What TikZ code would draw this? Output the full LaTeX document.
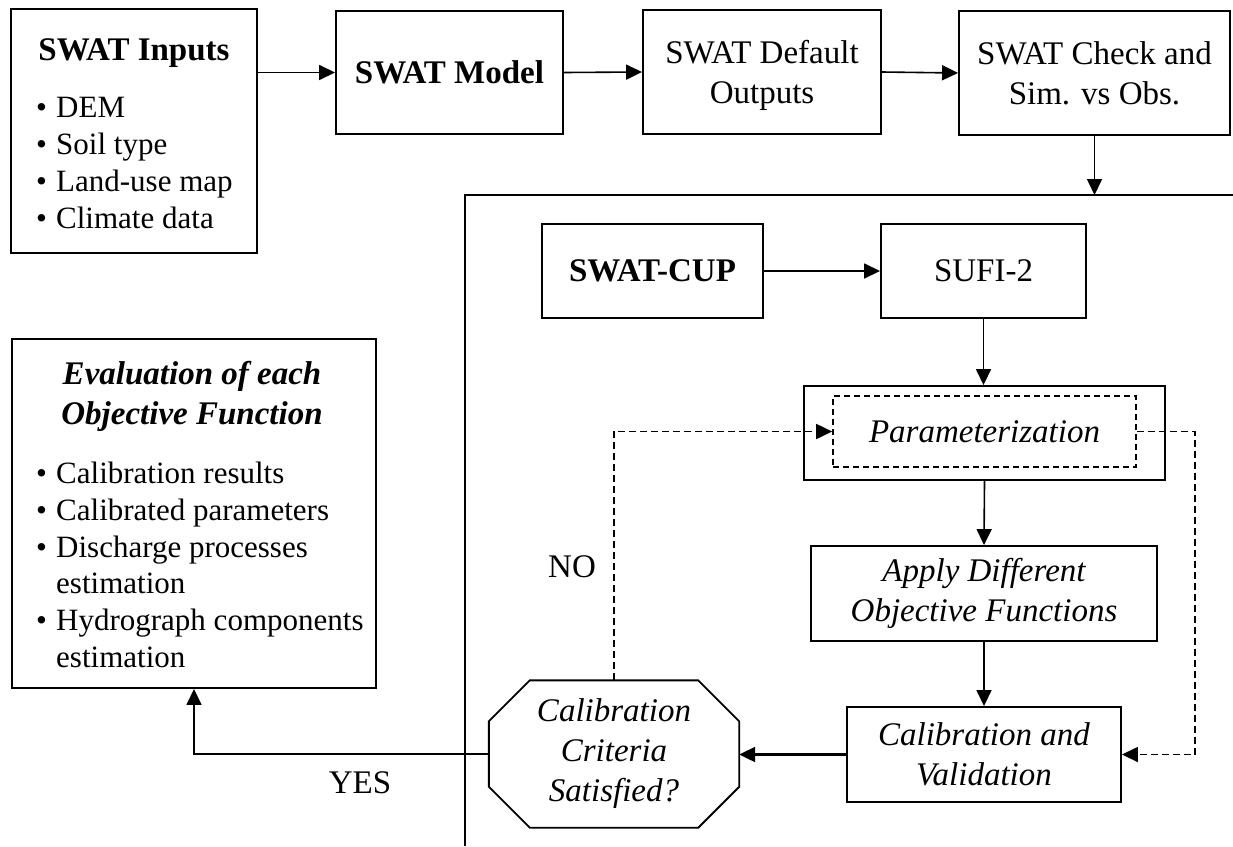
\documentclass[tikz,border=0pt]{standalone}
\usepackage{fontspec}
\setmainfont{Liberation Serif}
\usetikzlibrary{arrows.meta}

\newcommand\bigfont{\fontsize{33}{40}\selectfont}
\newcommand\listfont{\fontsize{31}{37}\selectfont}
\newcommand\bul{\makebox[20pt][l]{\textbullet}}

\begin{document}
\begin{tikzpicture}[x=1pt, y=-1pt,
  box/.style={draw, line width=1.9pt, inner sep=0pt, align=center, font=\bigfont},
  lbl/.style={inner sep=0pt, font=\bigfont},
  item/.style={inner sep=0pt, anchor=base west, font=\listfont},
  arr/.style={line width=1.6pt, -{Triangle[length=16pt,width=15pt]}},
  darr/.style={arr, dash pattern=on 7pt off 4pt}]

  \useasboundingbox (0,0) rectangle (1233,846);

  % top row
  \node[box, minimum width=246pt, minimum height=244pt] (inputs) at (134,131) {};
  \node[lbl, anchor=base, font=\bigfont\bfseries] (inputsT) at (134,60) {SWAT Inputs};
  \foreach \yy/\t [count=\i] in {117/DEM, 154/Soil type, 191/Land-use map, 228/Climate data}
    \node[item] (inputs\i) at (36,\yy) {\bul\t};

  \node[box, minimum width=227pt, minimum height=123pt, font=\bigfont\bfseries] (model) at (449.5,72.5) {SWAT Model};
  \node[box, minimum width=238pt, minimum height=124pt, text depth=0pt] (default) at (762,72) {SWAT Default\\Outputs};
  \node[box, minimum width=271pt, minimum height=124pt] (check) at (1094.5,73) {SWAT Check and\\Sim. vs Obs.};

  \draw[arr] (inputs.east |- model.west) -- (model.west);
  \draw[arr] (model.east) -- (default.west);
  \draw[arr] (default.east) -- (check.west);

  % SWAT-CUP frame
  \coordinate (frameNW) at (465,195);
  \draw[line width=1.9pt] (465,846) -- (frameNW) -- (1233,195);
  \draw[arr] (check.south) -- (check.south |- frameNW);

  \node[box, minimum width=221pt, minimum height=94pt, font=\bigfont\bfseries] (cup) at (652.5,271) {SWAT-CUP};
  \node[box, minimum width=205pt, minimum height=94pt] (sufi) at (983.5,271) {SUFI-2};
  \node[box, minimum width=361pt, minimum height=94pt] (param) at (984.5,433) {};
  \node[box, line width=1.6pt, dash pattern=on 6pt off 4pt, minimum width=303pt, minimum height=71pt,
        font=\bigfont\itshape] (paramIn) at (984.5,431.5) {Parameterization};
  \node[box, minimum width=346pt, minimum height=95pt, font=\bigfont\itshape] (apply) at (984,593.5) {Apply Different\\Objective Functions};
  \node[box, minimum width=274pt, minimum height=95pt, font=\bigfont\itshape] (calib) at (984,754.5) {Calibration and\\Validation};

  % octagon
  \node[lbl, minimum width=250pt, minimum height=147pt, align=center, font=\bigfont\itshape] (crit) at (614,754) {Calibration\\Criteria\\Satisfied?};
  \draw[line width=1.9pt] ([xshift=41pt]crit.north west) -- ([xshift=-41pt]crit.north east)
    -- ([yshift=-41pt]crit.north east) -- ([yshift=41pt]crit.south east)
    -- ([xshift=-41pt]crit.south east) -- ([xshift=41pt]crit.south west)
    -- ([yshift=41pt]crit.south west) -- ([yshift=-41pt]crit.north west) -- cycle;

  \draw[arr] (cup.east) -- (sufi.west);
  \draw[arr] (sufi.south) -- (sufi.south |- param.north);
  \draw[arr] (param.south) -- (apply.north);
  \draw[arr] (apply.south) -- (calib.north);
  \draw[arr, line width=2.2pt] (calib.west) -- (calib.west -| crit.east);

  % loops
  \draw[darr] (crit.north) |- (paramIn.west);
  \draw[darr] (paramIn.east) -- ++(58,0) |- (calib.east);

  % evaluation
  \node[box, minimum width=364pt, minimum height=349pt] (eval) at (194,513.5) {};
  \node[lbl, align=center, font=\bigfont\bfseries\itshape] (evalT) at (192,396) {Evaluation of each\\Objective Function};
  \foreach \yy/\t [count=\i] in {483/\bul Calibration results, 520/\bul Calibrated parameters,
      557/\bul Discharge processes, 593/\hspace*{20pt}estimation,
      630/\bul Hydrograph components, 667/\hspace*{20pt}estimation}
    \node[item] (eval\i) at (36,\yy) {\t};

  \draw[arr] (crit.west) -| (eval.south);

  \node[lbl] (yes) at (360,783) {YES};
  \node[lbl] (no) at (572,567) {NO};

\end{tikzpicture}
\end{document}
